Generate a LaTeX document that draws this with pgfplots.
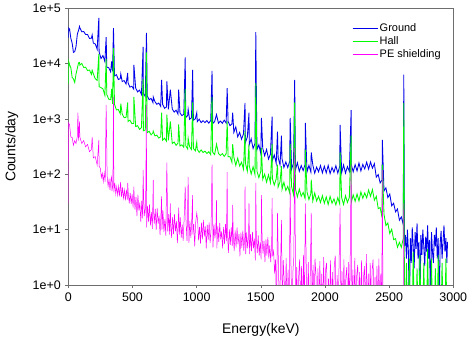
\documentclass[border=0pt]{standalone}
\usepackage{pgfplots}
\usepackage{pgfplotstable}
\pgfplotsset{compat=1.18}
\usepackage{fontspec}
\setmainfont{Liberation Sans}
\definecolor{gblue}{RGB}{0,0,235}
\definecolor{hgreen}{RGB}{0,250,0}
\definecolor{pemag}{RGB}{255,0,255}
\definecolor{axgray}{RGB}{110,110,110}

% Ground (B) and Hall (G)
\pgfplotstableread{
E B G
0 29000 4200
3 44000 11000
10 42000 9600
20 28500 8400
30 23500 5650
40 16000 5300
50 16500 4560
60 20200 6450
70 33600 8160
75 37000 9200
80 39900 10300
87 47000 10500
90 44500 9400
105 37600 10070
120 38100 8540
135 33600 8630
150 33600 7490
165 28500 7670
180 28900 6390
186 33000 7600
195 23500 6570
210 22700 5340
225 18200 4990
238 67000 15000
240 16300 3840
255 12350 3680
270 14000 3500
285 10900 2680
295 30000 12000
300 8650 2760
315 8450 2280
330 7100 2240
338 11000 3500
345 7250 1870
352 44000 19000
360 5990 1840
375 6310 1460
390 5170 1480
405 5360 1240
409 6500 1900
420 4750 1230
435 4940 1056
450 4280 1070
463 6800 2000
465 4550 900
480 3760 954
495 3910 825
510 3460 832
511 9500 2500
525 3620 730
540 3090 756
555 3320 649
570 2770 700
583 20000 5200
585 2880 611
600 2540 634
609 36000 16000
615 2625 566
630 2230 600
645 2350 517
660 1970 562
662 2500 600
675 2060 495
690 1840 510
705 1940 451
720 1690 478
727 5100 1300
735 1840 414
750 1560 450
765 1650 398
768 4800 1200
780 1490 411
795 3400 900
810 1520 360
825 1330 383
840 1440 334
855 1220 366
860 3400 800
870 1290 325
885 1150 341
900 1210 307
911 13000 3500
915 1055 328
930 1156 287
934 1500 450
945 987 316
960 1050 281
969 7700 2000
975 950 294
990 1010 265
1001 1300 380
1005 893 283
1020 990 249
1035 860 276
1050 932 248
1065 859 262
1080 935 238
1095 840 256
1110 942 226
1120 7400 2500
1125 822 251
1140 896 227
1155 1200 350
1170 837 239
1185 919 219
1200 836 237
1215 952 211
1230 846 235
1238 3600 900
1245 906 209
1260 758 208
1275 816 165
1281 1300 350
1290 572 205
1305 720 145
1320 476 196
1335 572 141
1350 432 165
1365 537 124
1377 1950 600
1380 374 160
1395 471 114
1408 1300 350
1410 343 144
1425 438 101
1440 293 137
1455 363 98
1461 37000 4500
1470 279 114
1485 342 87
1500 235 113
1505 1050 300
1515 297 81
1530 216 101
1545 282 72
1560 189 98
1575 231 71
1588 1100 350
1590 178 84
1605 224 64
1620 158 83
1630 590 150
1635 201 59
1650 148 74
1661 500 140
1665 194 53
1680 133 72
1695 167 51
1710 133 60.5
1725 171 46
1729 1050 350
1740 124 60
1755 160 43
1764 5100 2000
1770 121 55
1785 162 39
1800 113 54
1815 144 40
1830 117 47
1845 151 36.5
1847 850 280
1860 110 48
1875 145 35
1890 110 45
1893 250 80
1905 149 33
1920 105 46
1935 135 33
1950 111 40
1965 144 31
1980 106 41
1995 140 30
2010 106 39
2025 145 28.5
2040 103 40
2055 133 30
2070 109 36
2085 143 28
2100 105 38
2115 140 29
2118 780 250
2130 107 38
2145 148 28.5
2160 105 41
2175 138 31
2190 113 38.5
2204 1450 500
2205 150 31
2220 111 42.5
2235 150 32.5
2250 115 44
2265 160 33
2280 115 48
2295 151 37
2310 125 46
2325 166 37.5
2340 124 52
2355 167 40
2370 129 53
2385 156 34
2400 89 40
2415 99 24
2430 70 25
2445 79 16.5
2447 420 150
2460 50 19
2475 57 11.9
2490 38 13.2
2505 44 8.5
2520 27 10.2
2535 30 6.6
2550 21 6.9
2565 23.6 4.8
2580 14.8 5.9
2595 17 4.8
2610 12.3 6.9
2614 6300 1950
2620 5 0.3
2627.5 8 0.3
2635 3 2.5
2642.5 10 0.3
2650 4 0.3
2657.5 0.3 3
2665 7 0.3
2672.5 2.5 0.3
2680 11 0.3
2687.5 5 4
2695 2 0.3
2702.5 9 0.3
2710 4.5 0.3
2717.5 13 2
2725 3 0.3
2732.5 6 0.3
2740 0.3 3.5
2747.5 8 0.3
2755 3.5 0.3
2762.5 10 0.3
2770 5 2.5
2777.5 2.2 0.3
2785 7.5 0.3
2792.5 4 0.3
2800 12 4.5
2807.5 3 0.3
2815 6.5 0.3
2822.5 0.3 0.3
2830 9 3
2837.5 4 0.3
2845 2.5 0.3
2852.5 8 0.3
2860 5 2
2867.5 11 0.3
2875 3 0.3
2882.5 7 3.5
2890 0.3 0.3
2897.5 5.5 0.3
2905 9.5 0.3
2912.5 3 2.5
2920 6 0.3
2927.5 12 0.3
2935 4 0.3
2942.5 7 3
2950 2.5 0.3
2955 6 0.3
}\groundhall

% PE shielding (M)
\pgfplotstableread{
E M
0 30
3 850
10 780
20 470
30 465
40 335
50 407
60 359
70 482
75 1300
80 405
87 900
90 475
105 360
120 407
135 313
150 347
165 256
180 281
186 475
195 198
210 209
225 147
238 420
240 140
250 128
257.5 88
265 105
272.5 74
280 106
287.5 73
295 1800
302.5 96
310 61
317.5 80
325 52
332.5 81
338 90
340 50
347.5 64
352 2500
355 47
362.5 70
370 44
377.5 60
385 42
392.5 61
400 40
407.5 73
415 39
422.5 58
430 37
437.5 52
445 34
452.5 53
460 35
463 70
467.5 45
475 30
482.5 46
490 29
497.5 44
505 25
511 60
512.5 44
520 23
527.5 39
535 17.5
542.5 43
550 22
557.5 31
565 13.7
572.5 33.6
580 16
583 120
587.5 35.7
595 17.6
602.5 26
609 1800
610 11
617.5 27
625 14
632.5 28.5
640 12
647.5 20.7
655 10.3
662 79
662.5 26
670 12.9
677.5 23.8
685 9.9
692.5 24.8
700 12.7
707.5 18
715 8
722.5 20
727 40
730 10
737.5 22.4
745 9
752.5 15.5
760 7.7
768 163
775 9.2
782.5 19
790 8.1
795 30
797.5 14.3
805 7.1
812.5 16.9
820 8.3
827.5 18.9
835 9.3
842.5 14.4
850 5.7
857.5 15.3
860 25
865 8.1
872.5 16.7
880 7.2
887.5 12.5
895 6.3
902.5 15.5
911 60
917.5 13.7
925 6.3
934 89
940 5.8
947.5 14.4
955 7.1
962.5 16.3
969 42
970 8.2
977.5 12.6
985 5
992.5 13.5
1001 20
1007.5 14.8
1015 6.4
1022.5 11.2
1030 5.6
1037.5 13.4
1045 6.7
1052.5 15
1060 7.6
1067.5 11.5
1075 4.6
1082.5 12.3
1090 6.5
1097.5 13.5
1105 5.8
1112.5 10.2
1120 150
1127.5 4.8
1135 12.5
1142.5 7
1150 10.6
1155 34
1157.5 4.6
1165 11.7
1172.5 6
1180 13.2
1187.5 6.7
1195 9.3
1202.5 4.6
1210 11.1
1217.5 5.5
1225 12.6
1232.5 6.2
1238 110
1240 9.6
1247.5 3.8
1255 10.1
1262.5 5.3
1270 11
1277.5 5.1
1281 28
1285 8.5
1292.5 4.1
1300 9.7
1307.5 4.8
1315 11
1322.5 5.4
1330 8.4
1337.5 3.3
1345 8.8
1352.5 4.7
1360 9.6
1367.5 4.1
1375 7.2
1377 60
1382.5 3.6
1390 8.9
1397.5 4.6
1405 7.9
1408 30
1412.5 3.6
1420 8.3
1427.5 4.1
1435 9.1
1442.5 4.6
1450 6.9
1457.5 2.8
1461 70
1465 7.3
1472.5 3.8
1480 7.9
1487.5 3.4
1495 5.9
1502.5 2.9
1505 42
1510 6.9
1517.5 3.7
1525 6.3
1532.5 2.6
1540 6.7
1547.5 3.4
1555 7.4
1562.5 3
1570 5.2
1577.5 2.6
1585 6.2
1588 37
1592.5 3.3
1600 4.1
1607.5 1.6
1615 2.9
1622.5 0.3
1630 20
1637.5 2.2
1645 0.3
1652.5 1.5
1661 15
1667.5 0.3
1675 2.8
1682.5 1.2
1690 0.3
1697.5 3.1
1705 0.3
1712.5 1.9
1720 0.3
1729 60
1735 2.4
1742.5 0.3
1750 1.7
1757.5 3.3
1764 300
1772.5 0.3
1780 2.1
1787.5 0.3
1795 1.4
1802.5 2.9
1810 0.3
1817.5 2.2
1825 0.3
1832.5 3.5
1840 0.3
1847 30
1855 1.8
1862.5 0.3
1870 2.6
1877.5 0.3
1885 1.3
1893 20
1900 0.3
1907.5 2.3
1915 0.3
1922.5 3.0
1930 1.5
1937.5 0.3
1945 2.0
1952.5 0.3
1960 2.7
1967.5 0.3
1975 1.6
1982.5 0.3
1990 3.2
1997.5 0.3
2005 1.9
2012.5 2.5
2020 0.3
2027.5 1.3
2035 0.3
2042.5 2.8
2050 0.3
2057.5 1.7
2065 0.3
2072.5 2.2
2080 3.4
2087.5 0.3
2095 1.5
2102.5 0.3
2110 2.4
2118 25
2125 0.3
2132.5 1.8
2140 0.3
2147.5 2.9
2155 0.3
2162.5 1.4
2170 2.1
2177.5 0.3
2185 2.6
2192.5 0.3
2204 150
2210 0.3
2217.5 1.9
2225 0.3
2232.5 3.1
2240 0.3
2247.5 1.5
2255 2.3
2262.5 0.3
2270 1.7
2277.5 0.3
2285 2.8
2292.5 0.3
2300 1.3
2307.5 2.2
2315 0.3
2322.5 3.6
2330 0.3
2337.5 1.6
2345 0.3
2352.5 2.5
2360 0.3
2367.5 1.9
2375 2.9
2382.5 0.3
2390 1.4
2397.5 0.3
2405 2.2
2412.5 0.3
2420 3.0
2427.5 0.3
2435 1.6
2442.5 0.3
2447 120
2452.5 0.3
2612 0.3
2614 30
2616 0.3
}\pemag

\begin{document}
\begin{tikzpicture}
\useasboundingbox (0,0) rectangle (471bp,340bp);
\begin{axis}[
  at={(68.3bp,55bp)}, anchor=south west,
  scale only axis, width=385bp, height=276.7bp,
  ymode=log, xmin=0, xmax=3000, ymin=1, ymax=100000,
  xtick={0,500,1000,1500,2000,2500,3000},
  xticklabels={0,500,1000,1500,2000,2500,3000},
  ytick={1,10,100,1000,10000,100000},
  yticklabels={1e+0,1e+1,1e+2,1e+3,1e+4,1e+5},
  yminorticks=false, xminorticks=false,
  xtick pos=bottom, ytick pos=left, tick align=outside,
  major tick length=3bp,
  tick style={axgray, line width=0.6pt},
  axis line style={axgray, line width=0.6pt},
  ticklabel style={font=\fontsize{12.5}{14}\selectfont},
  xticklabel style={yshift=-1bp},
  yticklabel style={xshift=-1bp},
  xlabel={Energy(keV)}, ylabel={Counts/day},
  label style={font=\fontsize{14}{16}\selectfont},
  xlabel style={at={(axis description cs:0.5,-0.162)}, anchor=center},
  ylabel style={at={(axis description cs:-0.147,0.5)}, anchor=center},
  legend cell align=left,
  legend image code/.code={\draw[line width=1pt] (0bp,0bp) -- (25bp,0bp);},
  legend style={at={(0.737,0.950)}, anchor=north west, draw=none, fill=none,
    font=\fontsize{11}{12}\selectfont, row sep=0.3bp, inner sep=0pt,
    nodes={inner sep=1.5bp}},
  unbounded coords=discard,
]
\addplot[gblue, line width=0.85pt] table[x=E, y=B] {\groundhall};
\addlegendentry{Ground}
\addplot[hgreen, line width=0.85pt] table[x=E, y=G] {\groundhall};
\addlegendentry{Hall}
\addplot[pemag, line width=0.5pt] table[x=E, y=M] {\pemag};
\addlegendentry{PE shielding}
\end{axis}
\end{tikzpicture}
\end{document}
